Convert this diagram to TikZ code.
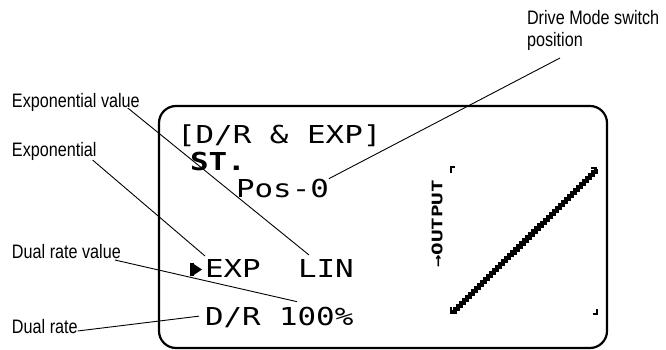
\documentclass[tikz,border=0pt]{standalone}
\usepackage{fontspec}
\setmainfont{Liberation Sans}
\newfontfamily\lblfont[FakeStretch=0.83]{Liberation Sans}
\newfontfamily\lcdfont[FakeStretch=1.25]{DejaVu Sans Mono}
\newfontfamily\lcdsmall[FakeStretch=1.44]{DejaVu Sans Mono}
\usetikzlibrary{calc}

\begin{document}
\begin{tikzpicture}[x=1pt,y=-1pt,
  lbl/.style={anchor=base west,inner sep=0pt,outer sep=0pt,font=\lblfont\fontsize{19.5}{22}\selectfont},
  lcd/.style={anchor=base west,inner sep=0pt,outer sep=0pt,font=\lcdfont\fontsize{24.7}{28}\selectfont},
  leader/.style={line width=0.9pt},
  tick/.style={line width=2pt}]
\useasboundingbox (0,0) rectangle (666,350);

% display frame
\draw [line width=2.2pt,rounded corners=17pt] (159,106) rectangle (607,348);

% callout labels
\node [lbl] (lbldrive) at (527,25) {Drive Mode switch};
\node [lbl] (lblpos) at (527,47) {position};
\node [lbl] (lblexpval) at (12,108) {Exponential value};
\node [lbl] (lblexp) at (12,156) {Exponential};
\node [lbl] (lbldrval) at (12,258) {Dual rate value};
\node [lbl] (lbldr) at (12,333) {Dual rate};

% screen text
\node [lcd] (title) at (177,143) {[D/R \& EXP]};
\node [lcd,font=\lcdfont\bfseries\fontsize{24.7}{28}\selectfont] (st) at (190,170) {ST.};
\node [lcd] (pos) at (236,197) {Pos-0};
\node [lcd] (exp) at (205,277) {EXP};
\node [lcd] (lin) at (298,277) {LIN};
\node [lcd] (dr) at (205,325) {D/R};
\node [lcd] (rate) at (279,325) {100\%};

% cursor
\fill (190,263) rectangle (193.5,276);
\fill (193,263.5) -- (202,269.5) -- (193,275.5) -- cycle;

% curve window
\node [font=\lcdsmall\bfseries\fontsize{14.5}{16}\selectfont,rotate=90,inner sep=0pt] (outlbl) at (437,224) {→OUTPUT};
\draw [tick] (455,167) -- (451,167) -- (451,173);
\draw [tick] (451,307) -- (451,313) -- (456,313);
\draw [tick] (591,168) -- (596,168) -- (596,174);
\draw [tick] (593,314) -- (597,314) -- (597,309);
\draw [line width=4.2pt] (452,312) \foreach \i in {1,...,48}{ -- ++(3,0) -- ++(0,-2.98) };

% leader lines
\draw [leader] ($(lblpos.base west)+(33,11)$) -- (pos.north east);
\draw [leader] ($(lblexpval.base east)+(-12,0)$) -- ($(lin.north west)+(11,-4)$);
\draw [leader] ($(lblexp.base east)+(-4,4)$) -- ($(exp.north west)+(0,-3)$);
\draw [leader] ($(lbldrval.base east)+(-6,2)$) -- ($(rate.north west)+(18,-5)$);
\draw [leader] ($(lbldr.base east)+(0,-2)$) -- ($(dr.west)+(-6,-1)$);
\end{tikzpicture}
\end{document}
